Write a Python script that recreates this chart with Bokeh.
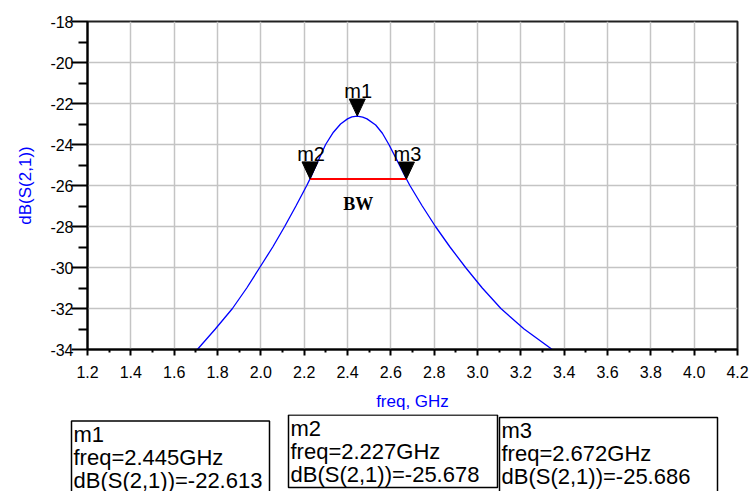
from bokeh.plotting import figure
from bokeh.layouts import column
from bokeh.models import Range1d, FixedTicker, NumeralTickFormatter
from bokeh.core.properties import value
from bokeh.embed import file_html
from bokeh.resources import INLINE

# Transmission response dB(S(2,1)) versus frequency
freq_ghz = [1.707, 1.79, 1.869, 1.935, 1.995, 2.055, 2.11, 2.162, 2.212, 2.227,
            2.26, 2.299, 2.335, 2.368, 2.40, 2.42, 2.445, 2.47, 2.49, 2.53, 2.561,
            2.591, 2.63, 2.672, 2.688, 2.745, 2.806, 2.873, 2.945, 3.022, 3.108,
            3.215, 3.345]
s21_db = [-34.0, -33.0, -32.0, -31.0, -30.0, -29.0, -28.0, -27.0, -26.0, -25.678,
          -24.9, -24.0, -23.4, -23.0, -22.75, -22.65, -22.613, -22.66, -22.75, -23.05,
          -23.45, -24.0, -24.8, -25.686, -26.0, -27.0, -28.0, -29.0, -30.0, -31.0,
          -32.0, -33.0, -34.0]

# Markers
marker_names = ["m1", "m2", "m3"]
marker_freq = [2.445, 2.227, 2.672]
marker_db = [-22.613, -25.678, -25.686]

# Axis ticks
x_ticks = [1.2, 1.4, 1.6, 1.8, 2.0, 2.2, 2.4, 2.6, 2.8, 3.0, 3.2, 3.4, 3.6, 3.8, 4.0, 4.2]
x_minor = [1.3, 1.5, 1.7, 1.9, 2.1, 2.3, 2.5, 2.7, 2.9, 3.1, 3.3, 3.5, 3.7, 3.9, 4.1]
y_ticks = [-34, -32, -30, -28, -26, -24, -22, -20, -18]
y_minor = [-33, -31, -29, -27, -25, -23, -21, -19]

FONT = "Liberation Sans"
BLUE = "#0000ff"

W, H = 750, 414
ML, MR, MT, MB = 87, 13, 21, 65
x0, x1 = x_ticks[0], x_ticks[-1]
y0, y1 = y_ticks[0], y_ticks[-1]

p = figure(width=W, height=H, output_backend="svg", toolbar_location=None,
           x_range=Range1d(x0, x1), y_range=Range1d(y0, y1),
           min_border_left=ML, min_border_right=MR, min_border_top=MT,
           min_border_bottom=MB)
p.frame_align = False
p.background_fill_color = "white"
p.border_fill_color = "white"
p.outline_line_color = "#202020"
p.outline_line_width = 2

xa = p.xaxis[0]
xa.ticker = FixedTicker(ticks=x_ticks, minor_ticks=x_minor)
xa.formatter = NumeralTickFormatter(format="0.0")
xa.axis_label = "freq, GHz"
ya = p.yaxis[0]
ya.ticker = FixedTicker(ticks=y_ticks, minor_ticks=y_minor)
ya.major_label_overrides = {t: str(t) for t in y_ticks}
ya.axis_label = "dB(S(2,1))"

for ax in (xa, ya):
    ax.axis_line_color = "black"
    ax.axis_line_width = 2
    ax.major_tick_line_color = "black"
    ax.minor_tick_line_color = "black"
    ax.major_tick_line_width = 2
    ax.minor_tick_line_width = 2
    ax.major_tick_in = 0
    ax.minor_tick_in = 0
    ax.major_label_text_font = FONT
    ax.major_label_text_font_size = "16px"
    ax.major_label_text_color = "black"
    ax.axis_label_text_font = FONT
    ax.axis_label_text_font_size = "17px"
    ax.axis_label_text_font_style = "normal"
    ax.axis_label_text_color = BLUE

xa.major_tick_out = 6
xa.minor_tick_out = 3
xa.major_label_standoff = 10
xa.axis_label_standoff = 11
ya.major_tick_out = 16
ya.minor_tick_out = 9
ya.major_label_standoff = -2
ya.axis_label_standoff = 12

for g in (p.xgrid[0], p.ygrid[0]):
    g.grid_line_color = "#c4c4c4"
    g.grid_line_width = 1.5

# Response curve
p.line(freq_ghz, s21_db, line_color=BLUE, line_width=1.3)

# Bandwidth line between m2 and m3
p.segment(x0=[marker_freq[1]], y0=[marker_db[1]], x1=[marker_freq[2]], y1=[marker_db[2]],
          line_color="#ff0000", line_width=2)
p.text(x=[(marker_freq[1] + marker_freq[2]) / 2], y=[marker_db[1]], text=["BW"],
       text_font=value("Liberation Serif"), text_font_style="bold", text_font_size="18px",
       text_align="center", text_baseline="alphabetic", y_offset=25, text_color="black")

# Marker triangles pointing at their data points
fw = W - ML - MR
fh = H - MT - MB
ux = (x1 - x0) / fw      # GHz per pixel
uy = (y1 - y0) / fh      # dB per pixel
tri_xs = [[f - 8 * ux, f + 8 * ux, f] for f in marker_freq]
tri_ys = [[d + 17 * uy, d + 17 * uy, d] for d in marker_db]
p.patches(tri_xs, tri_ys, fill_color="black", line_color="black", line_width=1)
p.text(x=marker_freq, y=marker_db, text=marker_names, text_font=value(FONT),
       text_font_size="20px", text_align="center", text_baseline="alphabetic",
       x_offset=1, y_offset=-25, text_color="black")

# Marker readout boxes (x and y in page pixels)
BH = 491 - H
q = figure(width=W, height=BH, output_backend="svg", toolbar_location=None,
           x_range=Range1d(0, W), y_range=Range1d(491, H),
           x_axis_type=None, y_axis_type=None, min_border=0)
q.frame_align = False
q.outline_line_color = None
q.background_fill_color = "white"
q.border_fill_color = "white"
q.grid.visible = False

box_left = [71, 288, 499]
box_right = [269, 497, 717]
box_top = [420.5, 414.5, 417]
box_bottom = [496, 487, 496]
q.quad(left=box_left, right=box_right, top=box_top, bottom=box_bottom,
       fill_color=None, line_color="black", line_width=1.5)

tx, ty, tt = [], [], []
for i, name in enumerate(marker_names):
    lines = [name, f"freq={marker_freq[i]:.3f}GHz", f"dB(S(2,1))={marker_db[i]:.3f}"]
    for k, s in enumerate(lines):
        tx.append(box_left[i] + 2)
        ty.append(box_top[i] + 13 + 23 * k)
        tt.append(s)
q.text(x=tx, y=ty, text=tt, text_font=value(FONT), text_font_size="22px",
       text_align="left", text_baseline="alphabetic", text_color="black")

layout = column(p, q, spacing=0)
open("out.html", "w").write(file_html(layout, INLINE))
